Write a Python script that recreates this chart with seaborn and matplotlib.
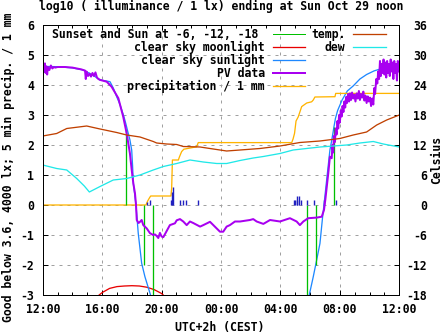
import matplotlib
matplotlib.use("Agg")
import matplotlib.pyplot as plt
from matplotlib.ticker import MultipleLocator
import seaborn as sns

# ---------------- data (x = hours after Sat 12:00 CEST) ----------------
x_tick_hours = [0, 4, 8, 12, 16, 20, 24]
x_tick_labels = ["12:00", "16:00", "20:00", "00:00", "04:00", "08:00", "12:00"]
left_ticks = [-3, -2, -1, 0, 1, 2, 3, 4, 5, 6]
right_ticks = [-18, -12, -6, 0, 6, 12, 18, 24, 30, 36]

# sunset / sun at -6, -12 (evening and morning): time, value of marker line
sun_h = [5.63, 6.84, 7.44, 17.81, 18.41, 19.62]
sun_v = [2.5, -2.0, -3.0, -3.0, -2.0, 2.6]

# clear sky moonlight
moon_h = [3.80, 4.00, 4.50, 5.00, 5.50, 6.00, 6.50, 7.00, 7.50, 8.00, 8.15]
moon_v = [-3.00, -2.92, -2.78, -2.72, -2.70, -2.69, -2.70, -2.74, -2.82, -2.95, -3.02]

# clear sky sunlight (evening part, morning part)
sun_eve_h = [0.0, 1.0, 2.0, 2.73, 3.3, 3.86, 4.53, 4.75, 4.98, 5.2, 5.47, 5.6, 5.75,
             5.87, 5.99, 6.05, 6.10, 6.28, 6.43, 6.66, 6.88, 7.22, 7.32]
sun_eve_v = [4.62, 4.61, 4.57, 4.50, 4.35, 4.17, 4.11, 3.90, 3.61, 3.35, 2.94, 2.70, 2.40,
             2.17, 1.83, 1.30, 0.72, 0.00, -0.94, -1.94, -2.39, -2.94, -3.10]
sun_mor_h = [17.90, 17.94, 18.21, 18.44, 18.66, 18.84, 18.93, 19.11, 19.33, 19.45, 19.6,
             19.7, 19.85, 20.15, 20.5, 20.9, 21.35, 21.8, 22.3, 22.7, 22.9]
sun_mor_v = [-3.10, -3.00, -2.39, -1.83, -1.28, -0.39, 0.00, 0.83, 1.83, 2.15, 2.60,
             2.88, 3.15, 3.50, 3.80, 3.97, 4.20, 4.35, 4.47, 4.53, 4.56]

# PV data
pv_h = [0.00, 0.05, 0.10, 0.15, 0.20, 0.25, 0.30, 0.35, 0.45, 0.55, 0.65, 0.75, 0.85,
        1.0, 1.5, 2.0, 2.3, 2.6, 2.85, 2.90, 2.95, 3.05, 3.15, 3.25, 3.35, 3.45, 3.55,
        3.65, 3.75, 3.86, 4.31, 4.64, 5.09, 5.42, 5.65, 5.87, 5.99, 6.10, 6.21, 6.28,
        6.33, 6.45, 6.55, 6.66, 6.77, 7.00, 7.22, 7.44, 7.55, 7.67, 7.78, 7.89, 8.0,
        8.12, 8.34, 8.56, 8.90, 9.02, 9.24, 9.46, 9.69, 9.91, 10.13, 10.59, 10.81,
        11.26, 11.48, 11.71, 11.93, 12.15, 12.38, 12.60, 12.94, 13.28, 13.95, 14.17,
        14.40, 14.85, 15.30, 15.97, 16.64, 17.09, 17.31, 17.54, 17.87, 18.44, 18.78,
        18.93, 19.02, 19.11, 19.22, 19.33, 19.45, 19.50, 19.55, 19.60, 19.67, 19.72,
        19.78, 19.84, 19.89, 19.95, 20.00, 20.06, 20.12, 20.18, 20.24, 20.30, 20.36,
        20.42, 20.48, 20.55, 20.62, 20.68, 20.75, 20.82, 20.90, 20.97, 21.05, 21.13,
        21.20, 21.28, 21.35, 21.42, 21.50, 21.58, 21.65, 21.72, 21.80, 21.88, 21.95,
        22.03, 22.10, 22.18, 22.25, 22.32, 22.37, 22.45, 22.52, 22.58, 22.64, 22.70,
        22.76, 22.82, 22.88, 22.94, 23.00, 23.06, 23.12, 23.18, 23.24, 23.30, 23.36,
        23.42, 23.48, 23.54, 23.60, 23.66, 23.72, 23.78, 23.84, 23.90, 23.96, 24.00]
pv_v = [4.55, 4.65, 4.45, 4.72, 4.40, 4.62, 4.35, 4.60, 4.50, 4.65, 4.55, 4.60, 4.58,
        4.60, 4.60, 4.58, 4.55, 4.52, 4.48, 4.20, 4.45, 4.30, 4.38, 4.28, 4.40, 4.30, 4.42,
        4.25, 4.20, 4.17, 4.11, 3.94, 3.56, 2.94, 2.39, 1.72, 1.17, 0.72, 0.39, 0.00,
        -0.50, -0.60, -0.56, -0.50, -0.67, -0.78, -0.94, -1.00, -0.98, -1.03, -1.10, -0.93, -1.05,
        -1.07, -0.87, -0.67, -0.61, -0.51, -0.47, -0.55, -0.67, -0.55, -0.60, -0.72, -0.67,
        -0.56, -0.67, -0.78, -0.89, -0.89, -0.72, -0.67, -0.55, -0.55, -0.50, -0.47,
        -0.55, -0.63, -0.50, -0.55, -0.44, -0.55, -0.67, -0.55, -0.44, -0.42, -0.39,
        -0.17, 0.17, 0.56, 1.06, 1.61, 1.56, 2.00, 1.75, 2.30, 2.10, 2.55,
        2.35, 2.80, 2.55, 3.00, 2.75, 3.15, 2.95, 3.30, 3.10, 3.45, 3.25,
        3.60, 3.40, 3.70, 3.45, 3.72, 3.50, 3.75, 3.55, 3.68, 3.45, 3.72,
        3.55, 3.80, 3.50, 3.70, 3.58, 3.78, 3.48, 3.65, 3.40, 3.62, 3.45,
        3.58, 3.30, 3.55, 3.35, 3.90, 3.70, 4.20, 4.05, 4.45, 4.20, 4.80,
        4.30, 4.70, 4.40, 4.85, 4.35, 4.75, 4.25, 4.80, 4.40, 4.70, 4.30,
        4.85, 4.45, 4.75, 4.20, 4.80, 4.40, 4.70, 4.15, 4.80, 4.45, 4.60]

# cumulative precipitation / 1 mm
prec_h = [0.0, 6.95, 7.05, 7.20, 7.27, 8.63, 8.68, 8.73, 9.13, 9.20, 9.35, 9.50, 10.36,
          10.47, 16.76, 16.85, 16.95, 17.05, 17.20, 17.43, 17.77, 18.10, 18.21, 18.32,
          19.67, 19.72, 24.0]
prec_v = [0.0, 0.0, 0.12, 0.25, 0.30, 0.30, 0.56, 1.50, 1.50, 1.60, 1.78, 1.86, 1.94,
          2.08, 2.08, 2.20, 2.39, 2.80, 2.94, 3.28, 3.40, 3.44, 3.50, 3.60,
          3.61, 3.72, 3.72]

# 5 min precipitation
rain5_h = [7.00, 7.22, 8.63, 8.71, 8.79, 9.26, 9.46, 9.64, 10.47,
           16.93, 17.01, 17.09, 17.13, 17.26, 17.39, 17.81, 18.28, 18.95, 19.76]
rain5_v = [0.09, 0.17, 0.17, 0.44, 0.61, 0.17, 0.17, 0.17, 0.17,
           0.17, 0.17, 0.17, 0.30, 0.30, 0.17, 0.17, 0.17, 0.17, 0.17]

# temperature and dew point (Celsius)
temp_h = [0.0, 0.94, 1.62, 2.96, 3.86, 4.98, 5.65, 6.55, 7.44, 7.67, 8.34, 9.02, 9.46,
          10.59, 11.48, 12.38, 13.28, 14.62, 15.97, 17.31, 18.66, 20.0, 20.9, 21.8,
          22.48, 23.15, 24.0]
temp_c = [13.8, 14.3, 15.3, 15.8, 15.2, 14.5, 14.0, 13.6, 12.7, 12.4, 12.2, 12.1, 11.7,
          11.6, 11.2, 10.8, 11.0, 11.3, 11.8, 12.5, 12.8, 13.3, 14.0, 14.6,
          16.0, 17.0, 18.0]
dew_h = [0.0, 0.94, 1.62, 2.29, 2.8, 3.14, 3.86, 4.75, 5.65, 6.55, 7.44, 8.12, 9.02,
         9.91, 10.81, 11.71, 12.38, 13.28, 14.17, 14.85, 15.97, 16.86, 18.66, 20.46,
         21.35, 22.25, 22.92, 24.0]
dew_c = [8.0, 7.3, 7.0, 5.3, 3.8, 2.6, 3.7, 5.0, 5.3, 6.0, 7.0, 7.7, 8.3,
         9.0, 8.6, 8.3, 8.3, 8.9, 9.4, 9.7, 10.3, 11.0, 11.6, 12.0,
         12.4, 12.7, 12.2, 11.6]

# ---------------- style ----------------
plt.rcParams['font.family'] = ['DejaVu Sans Mono']
plt.rcParams['font.weight'] = 'bold'
plt.rcParams['font.size'] = 8.3
PX = 0.72  # 1 pixel in points at 100 dpi

c_green = '#00c000'
c_red = '#e80000'
c_blue = '#1e88ff'
c_purple = '#a800f0'
c_orange = '#ffb400'
c_temp = '#c04000'
c_dew = '#20e8e8'
c_bar = '#2020c0'

fig = plt.figure(figsize=(4.47, 3.35), dpi=100)
ax = fig.add_axes([42.7 / 447, 40 / 335, 356.6 / 447, 270 / 335])
ax2 = ax.twinx()

# green sun markers as impulses from zero
ax.vlines(sun_h, 0, sun_v, color=c_green, lw=1.3 * PX, zorder=3)
ax.plot([], [], color=c_green, lw=PX, label='Sunset and Sun at -6, -12, -18 ')

sns.lineplot(x=moon_h, y=moon_v, ax=ax, color=c_red, lw=1.3 * PX, estimator=None,
             legend=False, label='clear sky moonlight')
sns.lineplot(x=sun_eve_h, y=sun_eve_v, ax=ax, color=c_blue, lw=1.3 * PX, estimator=None,
             legend=False, label='clear sky sunlight')
sns.lineplot(x=sun_mor_h, y=sun_mor_v, ax=ax, color=c_blue, lw=1.3 * PX, estimator=None,
             legend=False)
sns.lineplot(x=pv_h, y=pv_v, ax=ax, color=c_purple, lw=2.0 * PX, estimator=None,
             legend=False, label='PV data', zorder=4)
sns.lineplot(x=prec_h, y=prec_v, ax=ax, color=c_orange, lw=1.3 * PX, estimator=None,
             legend=False, label='precipitation / 1 mm')
ax.vlines(rain5_h, 0, rain5_v, color=c_bar, lw=1.4 * PX, zorder=3)

sns.lineplot(x=temp_h, y=temp_c, ax=ax2, color=c_temp, lw=1.3 * PX, estimator=None,
             legend=False, label='temp.')
sns.lineplot(x=dew_h, y=dew_c, ax=ax2, color=c_dew, lw=1.3 * PX, estimator=None,
             legend=False, label='dew')

# ---------------- axes ----------------
ax.set_xlim(0, 24)
ax.set_ylim(-3, 6)
ax2.set_ylim(-18, 36)
ax.set_xticks(x_tick_hours)
ax.set_xticklabels(x_tick_labels)
ax.xaxis.set_minor_locator(MultipleLocator(1))
ax.set_yticks(left_ticks)
ax.set_yticklabels([str(t) for t in left_ticks])
ax2.set_yticks(right_ticks)
ax2.set_yticklabels([str(t) for t in right_ticks])
for lab in ax2.get_yticklabels():
    lab.set_horizontalalignment('right')

ax.tick_params(axis='x', which='major', direction='in', length=3.6, width=PX, pad=6,
               top=True, labelsize=8.3)
ax.tick_params(axis='x', which='minor', direction='in', length=2.2, width=PX, top=True)
ax.tick_params(axis='y', which='major', direction='in', length=3.6, width=PX, pad=6.3,
               labelsize=8.3)
ax2.tick_params(axis='y', which='major', direction='in', length=3.6, width=PX, pad=19.9,
                labelsize=8.3)
for a in (ax, ax2):
    for s in a.spines.values():
        s.set_linewidth(PX)
        s.set_color('black')

ax.grid(True, which='major', color='#a0a0a0', lw=PX, linestyle=(0, (3, 5)))
ax.set_axisbelow(True)
ax.set_xlabel('')
ax.set_ylabel('')
ax2.set_ylabel('')

# ---------------- texts ----------------
fig.text(221 / 447, 1 - 6 / 335, 'log10 ( illuminance / 1 lx) ending at Sun Oct 29 noon',
         ha='center', va='center')
fig.text(220 / 447, 1 - 328 / 335, 'UTC+2h (CEST)', ha='center', va='center')
fig.text(8 / 447, 1 - 322 / 335, 'Good below 3.6, 4000 lx; 5 min precip. / 1 mm',
         rotation=90, ha='center', va='bottom')
fig.text(437 / 447, 1 - 160 / 335, 'Celsius', rotation=90, ha='center', va='center')

# ---------------- legends ----------------
h1, l1 = ax.get_legend_handles_labels()
h2, l2 = ax2.get_legend_handles_labels()
common = dict(frameon=False, markerfirst=False, handlelength=2.8, handletextpad=0.7,
              labelspacing=0.0, borderpad=0.0, borderaxespad=0.0, fontsize=8.3)
leg1 = ax2.legend(h1, l1, loc='upper right', bbox_to_anchor=(0.7356, 0.99), **common)
ax2.add_artist(leg1)
leg2 = ax2.legend(h2, l2, loc='upper right', bbox_to_anchor=(0.962, 0.99), **common)

fig.savefig('out.png', dpi=100)
